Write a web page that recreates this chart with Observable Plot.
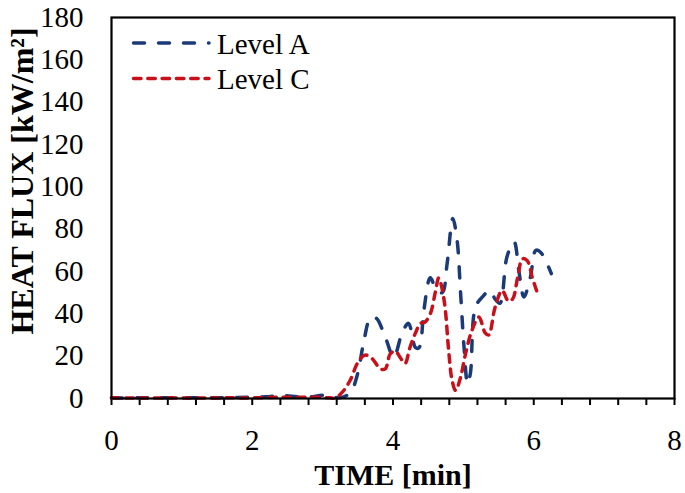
<!DOCTYPE html>
<html><head><meta charset="utf-8">
<script src="https://cdn.jsdelivr.net/npm/d3@7"></script>
<script src="https://cdn.jsdelivr.net/npm/@observablehq/plot@0.6"></script>
<style>
body{margin:0;background:#fff;}
#wrap{position:relative;width:685px;height:493px;font-family:"Liberation Serif","Times New Roman",serif;}
#legend{position:absolute;left:0;top:0;pointer-events:none;}
</style></head><body><div id="wrap"></div>
<script>
// Level A (blue, long dash)
const timeA = [0, 0.4, 0.8, 1.2, 1.6, 2.0, 2.2, 2.4, 2.6, 2.8, 3.0, 3.1, 3.2, 3.3, 3.4, 3.5, 3.58, 3.68, 3.76, 3.89, 4.01, 4.13, 4.22, 4.32, 4.37, 4.44, 4.53, 4.61, 4.7, 4.77, 4.85, 4.91, 4.96, 5.01, 5.06, 5.1, 5.17, 5.27, 5.38, 5.45, 5.52, 5.62, 5.72, 5.79, 5.86, 5.95, 6.03, 6.1, 6.25];
const fluxA = [0.3, 0.3, 0.4, 0.3, 0.4, 0.6, 0.8, 1.4, 0.9, 0.7, 1.5, 1.2, 0.4, 0.8, 3, 12, 26, 38, 38, 29, 19.6, 31, 35.5, 24, 24, 42, 57, 52, 50, 64, 85, 75, 50, 24, 7, 12, 43, 48, 51, 47, 45, 67, 74, 60, 48, 57, 70, 69, 59];
// Level C (red, short dash)
const timeC = [0, 0.4, 0.8, 1.2, 1.6, 2.0, 2.4, 2.8, 3.0, 3.1, 3.18, 3.28, 3.39, 3.5, 3.6, 3.7, 3.82, 3.89, 3.96, 4.03, 4.1, 4.17, 4.24, 4.32, 4.39, 4.45, 4.53, 4.6, 4.65, 4.69, 4.74, 4.79, 4.84, 4.89, 4.96, 5.03, 5.12, 5.22, 5.31, 5.36, 5.45, 5.55, 5.64, 5.7, 5.77, 5.84, 5.91, 5.98, 6.05];
const fluxC = [0.3, 0.2, 0.3, 0.2, 0.3, 0.3, 0.6, 0.6, 0.5, 0.3, 0.2, 3, 8.5, 17, 20.5, 19, 14, 14, 21, 22.5, 19.5, 16.5, 24, 31, 35.5, 36, 40, 50, 57, 53, 43, 23, 8.5, 3.8, 10, 21, 32, 38.5, 31, 30, 43, 51, 46, 47, 57, 66, 65, 57, 50];

const seriesNames = ["Level A", "Level C"];
const seriesColors = ["#1b3a78", "#c8101a"];
const seriesDash = ["11,14", "7.5,6.8"];
const xTickLabels = [0, 2, 4, 6, 8];
const xMinorTicks = d3.range(21).map(i => i * 2 / 5);
const yTickLabels = [0, 20, 40, 60, 80, 100, 120, 140, 160, 180];
const xTitle = "TIME [min]";
const yTitle = "HEAT FLUX [kW/m²]";

const dataA = timeA.map((t, i) => ({t, v: fluxA[i]}));
const dataC = timeC.map((t, i) => ({t, v: fluxC[i]}));

const plot = Plot.plot({
  width: 685, height: 493,
  marginLeft: 111, marginRight: 11, marginTop: 17, marginBottom: 95,
  style: {fontFamily: "'Liberation Serif', 'Times New Roman', serif", fontSize: "29px", color: "#000", background: "#fff"},
  x: {domain: [0, 8]},
  y: {domain: [0, 180]},
  marks: [
    Plot.axisY({ticks: yTickLabels, tickSize: 0, tickPadding: 28, label: null}),
    Plot.axisX({ticks: xMinorTicks, tickSize: 7, tickPadding: 24, strokeWidth: 2, label: null,
      tickFormat: d => xTickLabels.includes(d) ? String(d) : ""}),
    Plot.line(dataA, {x: "t", y: "v", stroke: seriesColors[0], strokeWidth: 3.5, strokeDasharray: seriesDash[0], strokeLinecap: "round", curve: "catmull-rom"}),
    Plot.line(dataC, {x: "t", y: "v", stroke: seriesColors[1], strokeWidth: 3.5, strokeDasharray: seriesDash[1], strokeLinecap: "round", curve: "catmull-rom"}),
    Plot.frame({stroke: "#000", strokeWidth: 2.2}),
    Plot.text([xTitle], {frameAnchor: "bottom", textAnchor: "middle", lineAnchor: "middle", dy: 77, fontWeight: "bold", fontSize: 30}),
    Plot.text([yTitle], {frameAnchor: "left", textAnchor: "middle", lineAnchor: "middle", rotate: -90, dx: -89, dy: -27, fontWeight: "bold", fontSize: 32})
  ]
});
const wrap = document.getElementById("wrap");
wrap.appendChild(plot);

// legend overlay (inside plot, top-left)
const ns = "http://www.w3.org/2000/svg";
const leg = document.createElementNS(ns, "svg");
leg.setAttribute("id", "legend");
leg.setAttribute("width", 685); leg.setAttribute("height", 493);
seriesNames.forEach((name, i) => {
  const y = 43 + i * 35.5;
  const ln = document.createElementNS(ns, "line");
  ln.setAttribute("x1", 133.5); ln.setAttribute("x2", 209);
  ln.setAttribute("y1", y); ln.setAttribute("y2", y);
  ln.setAttribute("stroke", seriesColors[i]); ln.setAttribute("stroke-width", 3.5);
  ln.setAttribute("stroke-dasharray", seriesDash[i]); ln.setAttribute("stroke-linecap", "round");
  leg.appendChild(ln);
  const tx = document.createElementNS(ns, "text");
  tx.setAttribute("x", 217); tx.setAttribute("y", y + 10.5);
  tx.setAttribute("font-family", "'Liberation Serif', 'Times New Roman', serif");
  tx.setAttribute("font-size", 29);
  tx.textContent = name;
  leg.appendChild(tx);
});
wrap.appendChild(leg);
</script></body></html>
